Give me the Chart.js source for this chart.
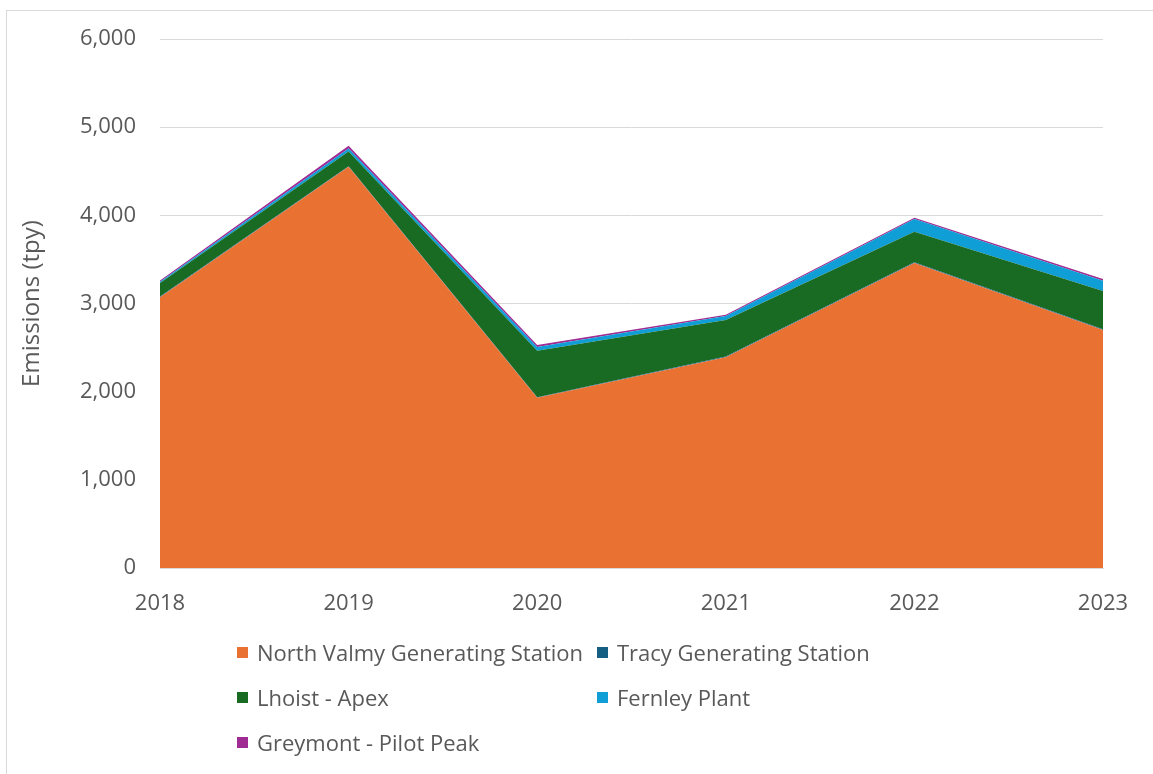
<!DOCTYPE html>
<html>
<head>
<meta charset="utf-8">
<script src="https://cdn.jsdelivr.net/npm/chart.js@4/dist/chart.umd.min.js"></script>
<style>
  html, body { margin: 0; padding: 0; background: #fff; }
  #wrap { position: relative; width: 1153px; height: 774px; overflow: hidden; font-family: "Open Sans", sans-serif; }
  #frame { position: absolute; left: 6px; top: 10px; width: 1200px; height: 800px; border: 1px solid #d9d9d9; box-sizing: border-box; }
  #areaChart { position: absolute; left: 0; top: 0; }
  #legend { position: absolute; left: 237px; top: 637px; width: 700px; }
  .item { position: absolute; display: flex; align-items: center; font-size: 22px; line-height: 30px; color: #595959; white-space: nowrap; }
  .item span.box { width: 11px; height: 11px; margin-right: 9px; }
</style>
</head>
<body>
<div id="wrap">
  <div id="frame"></div>
  <canvas id="areaChart" width="1153" height="774"></canvas>
  <div id="legend"></div>
</div>
<script>
// yearly emissions per facility (tpy)
const years = ['2018', '2019', '2020', '2021', '2022', '2023'];
const northValmy = [3070, 4550, 1930, 2390, 3460, 2700];
const tracy = [8, 8, 8, 8, 8, 8];
const lhoist = [155, 165, 525, 415, 345, 435];
const fernley = [15, 35, 45, 45, 145, 115];
const greymont = [12, 30, 22, 14, 14, 20];
const yTicks = [0, 1000, 2000, 3000, 4000, 5000, 6000];

const series = [
    { label: 'North Valmy Generating Station', data: northValmy, color: '#E97132' },
    { label: 'Tracy Generating Station', data: tracy, color: '#156082' },
    { label: 'Lhoist - Apex', data: lhoist, color: '#196B24' },
    { label: 'Fernley Plant', data: fernley, color: '#0F9ED5' },
    { label: 'Greymont - Pilot Peak', data: greymont, color: '#A02B93' }
];

const tickFont = { family: '"Open Sans", sans-serif', size: 22 };
const titleFont = { family: '"Open Sans", sans-serif', size: 24 };

const ctxArea = document.getElementById('areaChart');

new Chart(ctxArea, {
    type: 'line',
    data: {
        labels: years,
        datasets: series.map((s, i) => ({
            label: s.label,
            data: s.data,
            backgroundColor: s.color,
            borderColor: s.color,
            borderWidth: 0,
            pointRadius: 0,
            fill: i === 0 ? 'origin' : '-1',
            tension: 0
        }))
    },
    options: {
        responsive: false,
        animation: false,
        layout: { padding: { top: 39, right: 50, bottom: 162, left: 0 } },
        plugins: {
            legend: { display: false },
            tooltip: { enabled: false }
        },
        scales: {
            x: {
                offset: false,
                grid: { display: false },
                border: { color: '#d9d9d9', width: 1 },
                ticks: { color: '#595959', font: tickFont, padding: 15, maxRotation: 0 },
                afterFit: (scale) => { scale.height = 44; }
            },
            y: {
                stacked: true,
                min: 0,
                max: 6000,
                afterBuildTicks: (scale) => { scale.ticks = yTicks.map(v => ({ value: v })); },
                grid: { color: '#d9d9d9', drawTicks: false },
                border: { display: false },
                ticks: {
                    color: '#595959',
                    font: tickFont,
                    padding: 24,
                    callback: (v) => v.toLocaleString('en-US')
                },
                title: {
                    display: true,
                    text: 'Emissions (tpy)',
                    color: '#595959',
                    font: titleFont,
                    padding: { top: 18, bottom: 0 }
                },
                afterFit: (scale) => { scale.width = 160; }
            }
        }
    }
});

// legend laid out in two columns below the chart
const legendBox = document.getElementById('legend');
const spots = [[0, 0], [360, 0], [0, 45], [360, 45], [0, 90]];
series.forEach((s, i) => {
    const el = document.createElement('div');
    el.className = 'item';
    el.style.left = spots[i][0] + 'px';
    el.style.top = spots[i][1] + 'px';
    el.innerHTML = '<span class="box" style="background:' + s.color + '"></span>' + s.label;
    legendBox.appendChild(el);
});
</script>
</body>
</html>
